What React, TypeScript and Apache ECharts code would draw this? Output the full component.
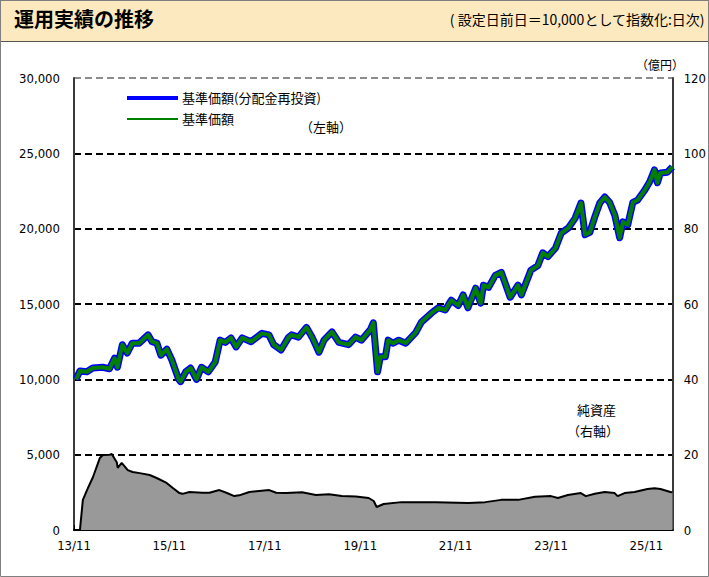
import React, { useEffect, useRef } from "react";
import * as echarts from "echarts";

// 基準価額 (左軸)
const navDates = [
  "2013-11-16","2013-12-16","2014-02-08","2014-03-23","2014-06-07","2014-07-29","2014-09-07","2014-09-29",
  "2014-11-06","2014-12-13","2015-01-21","2015-03-13","2015-05-20","2015-06-20","2015-07-27","2015-08-27",
  "2015-10-12","2015-11-19","2016-01-11","2016-01-26","2016-03-04","2016-04-11","2016-05-26","2016-07-03",
  "2016-08-25","2016-10-17","2016-11-24","2017-01-02","2017-02-16","2017-03-25","2017-05-10","2017-07-17",
  "2017-10-10","2017-12-02","2018-01-08","2018-03-03","2018-05-01","2018-05-23","2018-07-15","2018-09-15",
  "2018-10-28","2018-12-20","2019-01-28","2019-03-28","2019-05-20","2019-08-03","2019-09-26","2019-11-10",
  "2020-01-18","2020-02-10","2020-02-26","2020-03-12","2020-04-03","2020-05-11","2020-06-02","2020-07-10",
  "2020-08-22","2020-10-15","2020-12-30","2021-02-13","2021-04-29","2021-06-21","2021-08-13","2021-09-28",
  "2021-11-21","2021-12-28","2022-02-04","2022-04-02","2022-05-10","2022-06-01","2022-07-09","2022-08-31",
  "2022-10-16","2022-12-23","2023-02-22","2023-03-17","2023-05-30","2023-07-22","2023-08-29","2023-10-07",
  "2023-12-04","2024-01-18","2024-03-12","2024-05-03","2024-06-17","2024-07-18","2024-08-24","2024-10-02",
  "2024-11-09","2024-12-17","2025-01-23","2025-03-02","2025-04-09","2025-05-04","2025-06-10","2025-07-19",
  "2025-08-25","2025-10-18","2025-11-25","2026-01-02","2026-01-24","2026-02-17","2026-04-09","2026-05-17",
];
const navValues = [
  10000,10550,10500,10750,10800,10700,11400,10800,
  12300,11750,12400,12400,12950,12500,12400,11600,
  12000,11300,10000,9850,10500,10750,10000,10800,
  10500,11150,12600,12450,12750,12150,12750,12500,
  13050,12950,12300,11950,12800,12950,12800,13450,
  12800,11800,12600,13150,12450,12300,12800,12600,
  13300,13750,12150,10500,11500,11500,12600,12400,
  12600,12400,13100,13800,14400,14750,14600,15250,
  14900,15600,14750,16050,15050,16250,16100,16900,
  17100,15450,16250,15600,17250,17550,18400,18150,
  18700,19700,20050,20700,21700,19600,19750,20800,
  21700,22100,21750,20900,19400,20450,20250,21750,
  21900,22550,23100,23900,23050,23700,23750,24100,
];
// 分配金再投資 (分配実績なしのため基準価額と同一)
const navReinvestedValues = navValues.slice();

// 純資産 (右軸, 億円)
const aumDates = [
  "2013-12-16","2014-01-08","2014-02-16","2014-03-24","2014-05-16","2014-06-09","2014-08-01","2014-08-16",
  "2014-09-24","2014-10-01","2014-11-01","2014-12-17","2015-01-24","2015-03-17","2015-06-02","2015-07-25",
  "2015-10-10","2015-11-25","2016-01-17","2016-02-10","2016-04-02","2016-07-10","2016-09-03","2016-11-18",
  "2017-01-11","2017-03-11","2017-04-18","2017-07-04","2017-12-04","2018-01-27","2018-04-12","2018-08-12",
  "2018-11-27","2019-03-05","2019-06-12","2019-09-28","2020-01-05","2020-02-13","2020-03-05","2020-04-28",
  "2020-09-13","2021-05-29","2022-02-07","2022-06-15","2022-10-15","2023-02-23","2023-06-30","2023-10-31",
  "2023-12-23","2024-03-08","2024-06-16","2024-07-24","2024-10-01","2024-12-16","2025-03-01","2025-03-24",
  "2025-05-16","2025-08-01","2025-11-09","2026-01-02","2026-02-17","2026-05-02","2026-05-17",
];
const aumValues = [
  0,8,11.1,14,19.1,19.9,20,20.2,
  18,16.5,17.8,15.9,15.4,15.1,14.6,13.8,
  12.5,11.2,9.8,9.6,10.1,9.9,9.9,10.6,
  9.9,9.0,9.2,10.1,10.6,9.9,9.8,10.0,
  9.3,9.5,9.0,8.9,8.5,7.7,6.1,6.9,
  7.4,7.4,7.2,7.4,8.0,8.0,8.8,9.0,
  8.5,9.3,9.8,9.0,9.6,10.1,9.8,9.0,
  9.8,10.1,10.9,11.1,10.9,10.1,10.0,
];

const xTickLabels = ["13/11", "15/11", "17/11", "19/11", "21/11", "23/11", "25/11"];
const leftTicks = [0, 5000, 10000, 15000, 20000, 25000, 30000];
const rightTicks = [0, 20, 40, 60, 80, 100, 120];

const START_YEAR = 2013;
const START_MONTH = 11;
const X_MAX = 150.6;

function monthOffset(d: string): number {
  const [y, m, day] = d.split("-").map(Number);
  return (y - START_YEAR) * 12 + (m - START_MONTH) + (day - 1) / 30.5;
}

const FONT = "'DejaVu Sans Condensed', 'Liberation Sans', 'Noto Sans CJK JP', sans-serif";
const JFONT = "'Noto Sans CJK JP', sans-serif";

export default function App() {
  const ref = useRef<HTMLDivElement>(null);
  useEffect(() => {
    document.body.style.margin = "0";
    if (!ref.current) return;
    const chart = echarts.init(ref.current, null, { renderer: "svg" });
    const navData = navDates.map((d, i) => [monthOffset(d), navValues[i]]);
    const navReData = navDates.map((d, i) => [monthOffset(d), navReinvestedValues[i]]);
    const aumData = aumDates.map((d, i) => [monthOffset(d), aumValues[i]]);
    const gridColors = leftTicks.map((_, i) => (i === leftTicks.length - 1 ? "#8c8c8c" : "#000"));
    chart.setOption({
      animation: false,
      backgroundColor: "#fff",
      grid: { left: 74, right: 34, top: 78, bottom: 47, containLabel: false },
      xAxis: {
        type: "value",
        min: 0,
        max: X_MAX,
        interval: 24,
        axisLine: { show: true, lineStyle: { color: "#000", width: 2 } },
        axisTick: { show: true, inside: true, length: 5, lineStyle: { color: "#000", width: 1 } },
        splitLine: { show: false },
        axisLabel: {
          color: "#000",
          fontSize: 13,
          fontFamily: FONT,
          margin: 9,
          showMaxLabel: false,
          formatter: (v: number) => {
            const idx = Math.round(v / 24);
            return Math.abs(v - idx * 24) < 0.01 && idx < xTickLabels.length ? xTickLabels[idx] : "";
          },
        },
      },
      yAxis: [
        {
          type: "value",
          min: leftTicks[0],
          max: leftTicks[leftTicks.length - 1],
          interval: 5000,
          axisLine: { show: true, lineStyle: { color: "#3a3a3a", width: 2 } },
          axisTick: { show: false },
          axisLabel: {
            color: "#000",
            fontSize: 13,
            fontFamily: FONT,
            margin: 14,
            formatter: (v: number) => v.toLocaleString("en-US"),
          },
          splitLine: { show: true, lineStyle: { color: gridColors, width: 2, type: [7, 4] } },
        },
        {
          type: "value",
          min: rightTicks[0],
          max: rightTicks[rightTicks.length - 1],
          interval: 20,
          position: "right",
          axisLine: { show: true, lineStyle: { color: "#3a3a3a", width: 2 } },
          axisTick: { show: false },
          axisLabel: { color: "#000", fontSize: 13, fontFamily: FONT, margin: 11 },
          splitLine: { show: false },
        },
      ],
      series: [
        {
          name: "純資産",
          type: "line",
          yAxisIndex: 1,
          data: aumData,
          showSymbol: false,
          lineStyle: { color: "#000", width: 2 },
          areaStyle: { color: "#999999", opacity: 1 },
          z: 2,
        },
        {
          name: "基準価額(分配金再投資)",
          type: "line",
          data: navReData,
          showSymbol: false,
          lineStyle: { color: "#0000ff", width: 7, join: "round" },
          z: 3,
        },
        {
          name: "基準価額",
          type: "line",
          data: navData,
          showSymbol: false,
          lineStyle: { color: "#008000", width: 4, join: "round" },
          z: 4,
        },
      ],
      graphic: [
        {
          type: "rect",
          silent: true,
          shape: { x: 0.5, y: 0.5, width: 708, height: 576 },
          style: { fill: "none", stroke: "#7f7f7f", lineWidth: 1 },
          z: 100,
        },
        {
          type: "rect",
          silent: true,
          shape: { x: 0.5, y: 0.5, width: 708, height: 41 },
          style: { fill: "#fde9bf", stroke: "#555", lineWidth: 1 },
          z: 99,
        },
        {
          type: "text",
          left: 14,
          top: 8,
          z: 101,
          style: { text: "運用実績の推移", fill: "#000", font: `bold 20px ${JFONT}` },
        },
        {
          type: "text",
          right: 4,
          top: 12,
          z: 101,
          style: { text: "( 設定日前日＝10,000として指数化:日次)", fill: "#000", font: `14px ${JFONT}` },
        },
        {
          type: "text",
          left: 636,
          top: 58,
          z: 101,
          style: { text: "（億円）", fill: "#000", font: `12px ${JFONT}` },
        },
        {
          type: "line",
          z: 101,
          shape: { x1: 127, y1: 98, x2: 178, y2: 98 },
          style: { stroke: "#0000ff", lineWidth: 4 },
        },
        {
          type: "line",
          z: 101,
          shape: { x1: 127, y1: 119, x2: 178, y2: 119 },
          style: { stroke: "#008000", lineWidth: 2 },
        },
        {
          type: "text",
          left: 182,
          top: 91,
          z: 101,
          style: { text: "基準価額(分配金再投資)", fill: "#000", font: `13px ${JFONT}` },
        },
        {
          type: "text",
          left: 182,
          top: 112,
          z: 101,
          style: { text: "基準価額", fill: "#000", font: `13px ${JFONT}` },
        },
        {
          type: "text",
          left: 300,
          top: 120,
          z: 101,
          style: { text: "（左軸）", fill: "#000", font: `13px ${JFONT}` },
        },
        {
          type: "text",
          left: 577,
          top: 403,
          z: 101,
          style: { text: "純資産", fill: "#000", font: `13px ${JFONT}` },
        },
        {
          type: "text",
          left: 567,
          top: 424,
          z: 101,
          style: { text: "（右軸）", fill: "#000", font: `13px ${JFONT}` },
        },
      ],
    });
    return () => chart.dispose();
  }, []);
  return (
    <div
      ref={ref}
      style={{ position: "absolute", left: 0, top: 0, width: 709, height: 577 }}
    />
  );
}
